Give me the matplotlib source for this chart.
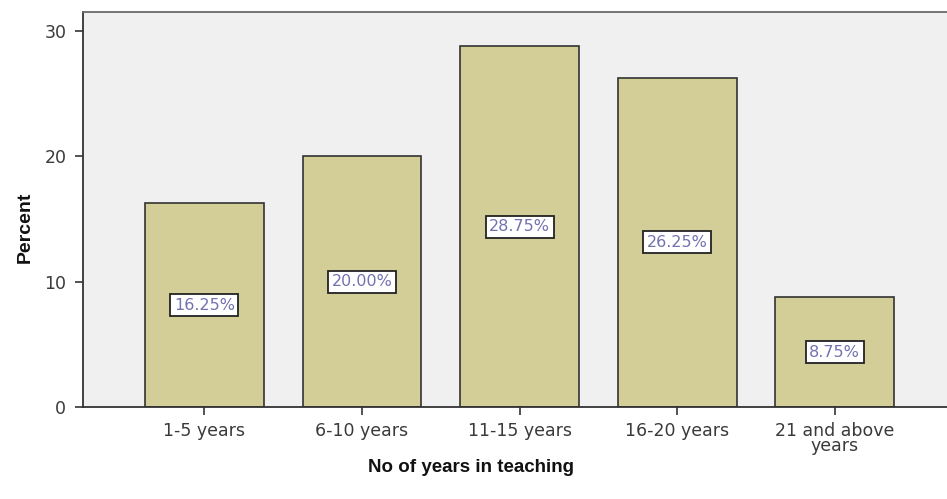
import matplotlib.pyplot as plt

plt.rcParams['font.family'] = ['DejaVu Sans']

categories = ['1-5 years', '6-10 years', '11-15 years', '16-20 years', '21 and above\nyears']
percent = [16.25, 20.00, 28.75, 26.25, 8.75]

fig = plt.figure(figsize=(9.47, 4.99), dpi=100)
ax = fig.add_axes([0.0876, 0.1844, 0.922, 0.7916])
ax.set_facecolor('#f0f0f0')

x = range(len(categories))
ax.bar(x, percent, width=0.755, color='#d3ce97', edgecolor='#333333', linewidth=1.2, zorder=2)

# value labels sit at half the bar height
for i, v in enumerate(percent):
    ax.text(i, v / 2, f'{v:.2f}%', ha='center', va='center', fontsize=11.5,
            color='#7272b0',
            bbox=dict(boxstyle='square,pad=0.22', facecolor='white', edgecolor='#222222', linewidth=1.3),
            zorder=3)

ax.set_xlim(-0.771, 4.771)
ax.set_ylim(0, 31.5)
ax.set_yticks([0, 10, 20, 30])
ax.set_xticks(list(x))
ax.set_xticklabels(categories, linespacing=0.8)
ax.tick_params(axis='both', direction='out', length=6, width=1.2, colors='#333333',
               labelsize=12.5, labelcolor='#3a3a3a')
ax.tick_params(axis='x', pad=5)
ax.tick_params(axis='y', pad=6)

for side in ['left', 'bottom', 'top']:
    ax.spines[side].set_color('#333333')
    ax.spines[side].set_linewidth(1.3)
ax.spines['right'].set_visible(False)
ax.spines['top'].set_color('#6a6a6a')

ax.set_ylabel('Percent', fontsize=14, fontweight='bold', color='#111111',
              family=['Liberation Sans', 'DejaVu Sans'])
ax.yaxis.label.set_va('center')
ax.yaxis.set_label_coords(-0.066, 0.455)

ax.set_xlabel('No of years in teaching', fontsize=13.5, fontweight='bold', color='#111111',
              family=['Liberation Sans', 'DejaVu Sans'])
ax.xaxis.label.set_va('center')
ax.xaxis.set_label_coords(0.444, -0.154)

fig.savefig('out.png', dpi=100)
